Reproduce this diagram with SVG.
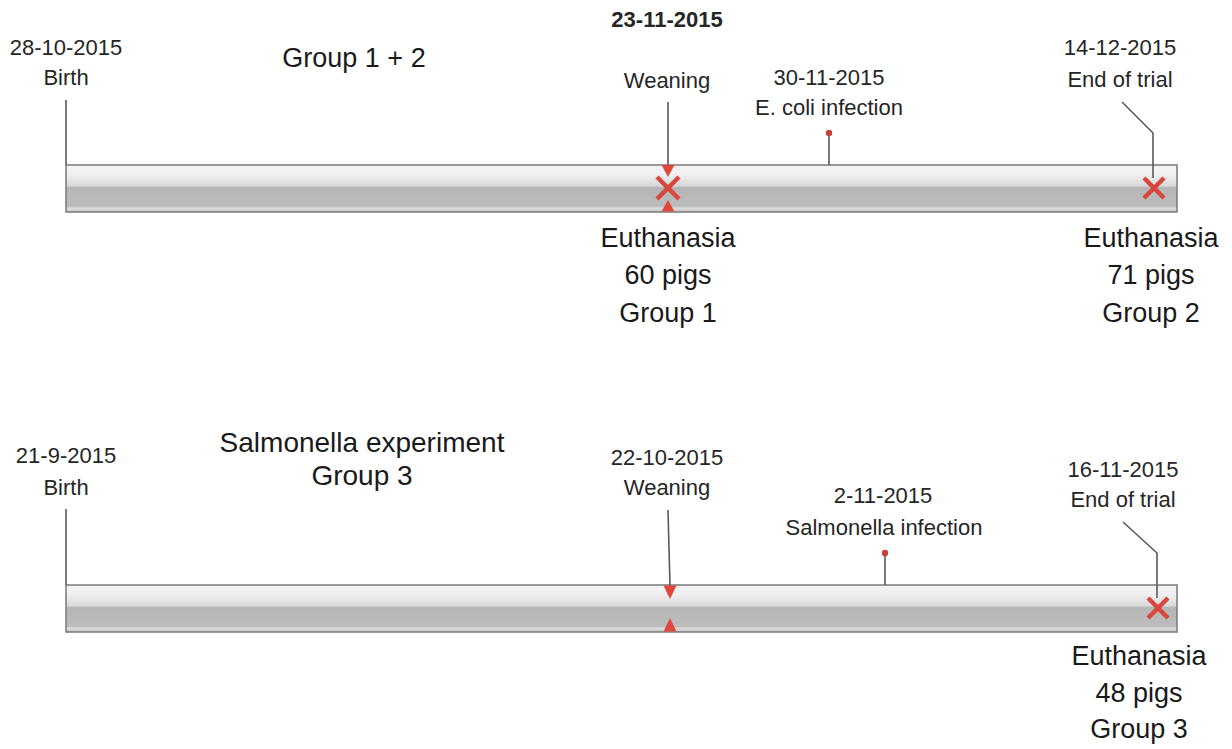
<svg xmlns="http://www.w3.org/2000/svg" width="1232" height="749" viewBox="0 0 1232 749">
<style>
.s{font-family:"Liberation Sans",Arial,sans-serif;font-size:22px;fill:#262626;text-anchor:middle}
.b{font-weight:bold}
.l{font-family:"Liberation Sans",Arial,sans-serif;font-size:27px;fill:#1a1a1a;text-anchor:middle}
.ln{stroke:#5a5a5a;stroke-width:1.6;fill:none}
.bar{fill:url(#g);stroke:#7a7a7a;stroke-width:1.5}
.x{stroke:#d9463b;stroke-width:4.5;stroke-linecap:butt}
.tri{fill:#e0483c}
.pin{fill:#c8403a}
</style>
<defs>
<linearGradient id="g" x1="0" y1="0" x2="0" y2="1">
<stop offset="0" stop-color="#f4f4f4"/>
<stop offset="0.2" stop-color="#f0f0f0"/>
<stop offset="0.45" stop-color="#d8d8d8"/>
<stop offset="0.47" stop-color="#b6b6b6"/>
<stop offset="0.88" stop-color="#bcbcbc"/>
<stop offset="0.92" stop-color="#dedede"/>
<stop offset="0.96" stop-color="#cfcfcf"/>
<stop offset="1" stop-color="#c4c4c4"/>
</linearGradient>
</defs>

<g id="timeline1">
<rect class="bar" x="66" y="165" width="1111" height="47"/>
</g>
<g id="timeline2">
<rect class="bar" x="66" y="585" width="1111" height="47"/>
</g>

<g id="connectors">
<line class="ln" x1="66" y1="100" x2="66" y2="165"/>
<line class="ln" x1="668" y1="102" x2="668" y2="166"/>
<line class="ln" x1="829" y1="134" x2="829" y2="165"/>
<polyline class="ln" points="1122,102 1153,133 1153,178"/>
<line class="ln" x1="66" y1="509" x2="66" y2="585"/>
<line class="ln" x1="668" y1="510" x2="670" y2="586"/>
<line class="ln" x1="885" y1="554" x2="885" y2="585"/>
<polyline class="ln" points="1123,522 1157,553 1157,598"/>
</g>

<g id="birth1">
<text class="s" x="66" y="55">28-10-2015</text>
<text class="s" x="66" y="85">Birth</text>
</g>
<g id="title1">
<text class="l" x="354" y="67">Group 1 + 2</text>
</g>
<g id="weaning1">
<text class="s b" x="667" y="27">23-11-2015</text>
<text class="s" x="667" y="88">Weaning</text>
<polygon class="tri" points="661.5,165 674.5,165 668,177"/>
<line class="x" x1="657" y1="177" x2="679" y2="199"/>
<line class="x" x1="679" y1="177" x2="657" y2="199"/>
<polygon class="tri" points="661.5,211.5 674.5,211.5 668,200"/>
</g>
<g id="ecoli1">
<text class="s" x="829" y="85">30-11-2015</text>
<text class="s" x="829" y="115">E. coli infection</text>
<circle class="pin" cx="829" cy="133" r="3.2"/>
</g>
<g id="end1">
<text class="s" x="1120" y="55">14-12-2015</text>
<text class="s" x="1120" y="87">End of trial</text>
<line class="x" x1="1144" y1="178" x2="1164" y2="198"/>
<line class="x" x1="1164" y1="178" x2="1144" y2="198"/>
</g>
<g id="euth1">
<text class="l" x="668" y="247">Euthanasia</text>
<text class="l" x="668" y="284">60 pigs</text>
<text class="l" x="668" y="322">Group 1</text>
</g>
<g id="euth2">
<text class="l" x="1151" y="247">Euthanasia</text>
<text class="l" x="1151" y="284">71 pigs</text>
<text class="l" x="1151" y="322">Group 2</text>
</g>

<g id="birth2">
<text class="s" x="66" y="463">21-9-2015</text>
<text class="s" x="66" y="495">Birth</text>
</g>
<g id="title2">
<text class="l" x="362" y="452" style="font-size:28px">Salmonella experiment</text>
<text class="l" x="362" y="485" style="font-size:28px">Group 3</text>
</g>
<g id="weaning2">
<text class="s" x="667" y="465">22-10-2015</text>
<text class="s" x="667" y="495">Weaning</text>
<polygon class="tri" points="663.5,585.5 676.5,585.5 670,599"/>
<polygon class="tri" points="663.5,631.5 676.5,631.5 670,618"/>
</g>
<g id="salm2">
<text class="s" x="883" y="503">2-11-2015</text>
<text class="s" x="884" y="535">Salmonella infection</text>
<circle class="pin" cx="885" cy="553" r="3.2"/>
</g>
<g id="end2">
<text class="s" x="1123" y="477">16-11-2015</text>
<text class="s" x="1123" y="507">End of trial</text>
<line class="x" x1="1148" y1="598" x2="1168" y2="618"/>
<line class="x" x1="1168" y1="598" x2="1148" y2="618"/>
</g>
<g id="euth3">
<text class="l" x="1139" y="665">Euthanasia</text>
<text class="l" x="1139" y="702">48 pigs</text>
<text class="l" x="1139" y="738">Group 3</text>
</g>
</svg>
